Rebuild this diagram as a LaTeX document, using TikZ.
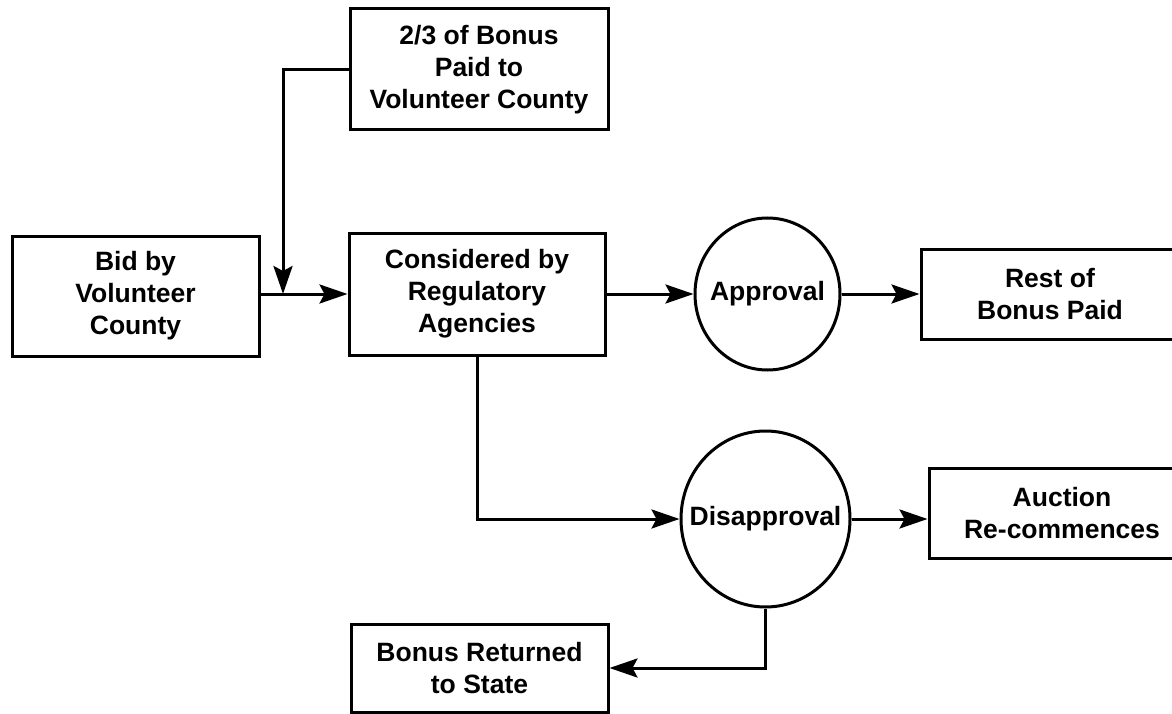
\documentclass[tikz,border=0pt]{standalone}
\usepackage{fontspec}
\setmainfont{Liberation Sans}
\usetikzlibrary{arrows.meta,shapes.geometric}

\tikzset{
    block/.style={draw, line width=3pt, align=center, inner sep=0pt, font=\fontsize{26.5}{32}\selectfont\bfseries},
    decision/.style={block, ellipse, inner xsep=-20pt},
    flow/.style={line width=3pt, -{Stealth[length=28pt, width=19pt, inset=5pt]}},
}

\begin{document}
\begin{tikzpicture}[x=1pt, y=-1pt]
    \useasboundingbox (0,0) rectangle (1172,714);
    \clip (0,0) rectangle (1172,714);

    % Bid and first payment
    \node[block, minimum width=247pt, minimum height=120pt] (bid) at (135.5,296) {Bid by\\Volunteer\\County};
    \node[block, minimum width=258pt, minimum height=121pt] (paid) at (479,69.5) {2/3 of Bonus\\Paid to\\Volunteer County};
    \node[block, minimum width=256pt, minimum height=122pt] (cons) at (477,294) {Considered by\\Regulatory\\Agencies};
    \coordinate (join) at (283,294);

    % Outcomes
    \node[decision, minimum width=145pt, minimum height=152pt] (appr) at (767.5,294) {Approval};
    \node[decision, minimum width=169pt, minimum height=176pt] (disap) at (765.5,519) {Disapproval};
    \node[block, minimum width=258pt, minimum height=90pt] (rest) at (1050,294) {Rest of\\Bonus Paid};
    \node[block, minimum width=266pt, minimum height=90pt] (auct) at (1062,513) {Auction\\Re-commences};
    \node[block, minimum width=257pt, minimum height=88pt] (ret) at (479.5,668) {Bonus Returned\\to State};

    \draw[flow] (bid.east |- cons.west) -- (cons.west);
    \draw[flow] (paid.west) -| (join);
    \draw[flow] (cons.east) -- (appr.west);
    \draw[flow] (appr.east) -- (rest.west);
    \draw[flow] (cons.south) |- (disap.west);
    \draw[flow] (disap.east) -- (disap.east -| auct.west);
    \draw[flow] (disap.south) |- (ret.east);
\end{tikzpicture}
\end{document}
